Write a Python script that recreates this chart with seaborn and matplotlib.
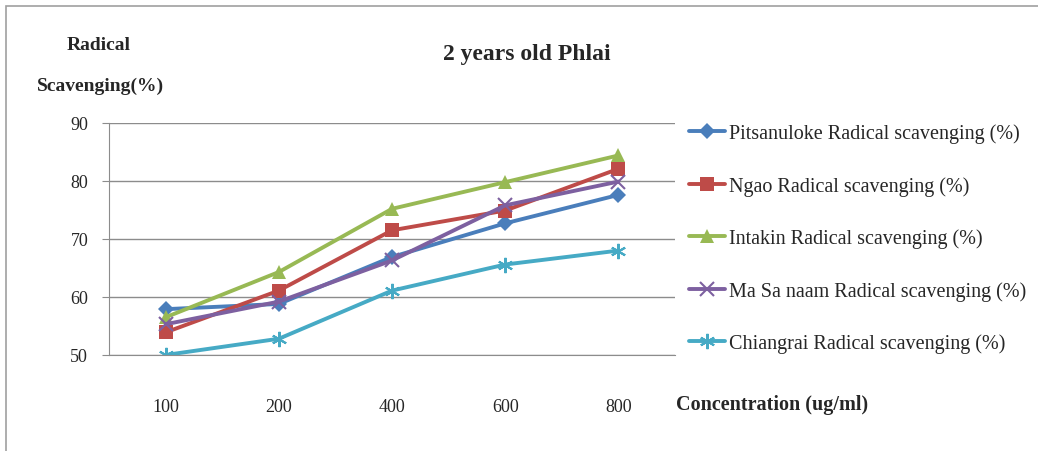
import matplotlib
matplotlib.use('Agg')
import matplotlib.pyplot as plt
import matplotlib.patches as mpatches
import pandas as pd
import seaborn as sns

# Data
concentrations = ['100', '200', '400', '600', '800']
pitsanuloke = [57.9, 58.8, 66.9, 72.7, 77.6]
ngao = [53.9, 61.1, 71.5, 74.9, 82.1]
intakin = [56.5, 64.3, 75.2, 79.8, 84.4]
ma_sa_naam = [55.3, 59.2, 66.3, 75.8, 79.9]
chiangrai = [50.0, 52.8, 61.1, 65.6, 68.0]

series_names = [
    'Pitsanuloke Radical scavenging (%)',
    'Ngao Radical scavenging (%)',
    'Intakin Radical scavenging (%)',
    'Ma Sa naam Radical scavenging (%)',
    'Chiangrai Radical scavenging (%)',
]
series_values = [pitsanuloke, ngao, intakin, ma_sa_naam, chiangrai]

colors = ['#4A7EBB', '#BE4B48', '#98B954', '#7D60A0', '#46AAC5']
markers = ['D', 's', '^', 'x', (6, 2, 0)]
marker_sizes = [8, 10, 10, 10, 11]

rows = []
for name, vals in zip(series_names, series_values):
    for c, v in zip(concentrations, vals):
        rows.append({'conc': c, 'value': v, 'series': name})
df = pd.DataFrame(rows)

sns.set_style('white')
plt.rcParams['font.family'] = ['Liberation Serif', 'DejaVu Serif']

fig = plt.figure(figsize=(10.38, 4.52), dpi=100)
ax = fig.add_axes([0.105, 0.2124, 0.5453, 0.5133])

for name, col, mk, ms in zip(series_names, colors, markers, marker_sizes):
    sub = df[df['series'] == name]
    sns.lineplot(data=sub, x='conc', y='value', ax=ax, color=col, lw=2.8,
                 marker=mk, markersize=ms, markeredgewidth=1.5 if mk in ('x', (6, 2, 0)) else 0,
                 markeredgecolor=col, label=name, sort=False)

ax.set_xlim(-0.5, 4.5)
ax.set_ylim(50, 90)
ax.set_yticks([50, 60, 70, 80, 90])
ax.yaxis.grid(True, color='#8c8c8c', lw=1)
ax.set_axisbelow(True)
for s in ['top', 'right']:
    ax.spines[s].set_visible(False)
for s in ['left', 'bottom']:
    ax.spines[s].set_color('#8c8c8c')
ax.set_xlabel('')
ax.set_ylabel('')

# category labels sit well below the axis, tick marks between categories
ax.set_xticks(range(len(concentrations)))
ax.set_xticklabels(concentrations, fontsize=13)
ax.tick_params(axis='x', length=0, pad=31)
ax.set_xticks([-0.5, 0.5, 1.5, 2.5, 3.5, 4.5], minor=True)
ax.tick_params(axis='x', which='minor', length=6, color='#8c8c8c', direction='out')
ax.tick_params(axis='y', labelsize=13, length=5, color='#8c8c8c', direction='out', left=True, pad=10)

fig.text(0.508, 0.88, '2 years old Phlai', fontsize=17, fontweight='bold', ha='center', va='center')
fig.text(0.0645, 0.9, 'Radical', fontsize=14, fontweight='bold', ha='left', va='center')
fig.text(0.036, 0.808, 'Scavenging(%)', fontsize=14, fontweight='bold', ha='left', va='center')
fig.text(0.651, 0.104, 'Concentration (ug/ml)', fontsize=14.5, fontweight='bold', ha='left', va='center')

handles, labels = ax.get_legend_handles_labels()
ax.legend(handles, labels, loc='upper left', bbox_to_anchor=(0.664, 0.724),
          bbox_transform=fig.transFigure, frameon=False, borderpad=0,
          fontsize=14.5, labelspacing=1.62, handlelength=1.8, handletextpad=0.15, borderaxespad=0)

fig.patches.append(mpatches.Rectangle((0.006, -0.02), 1.1, 1.004, transform=fig.transFigure,
                                      fill=False, ec='#a0a0a0', lw=1.2))

fig.savefig('out.png', dpi=100)
